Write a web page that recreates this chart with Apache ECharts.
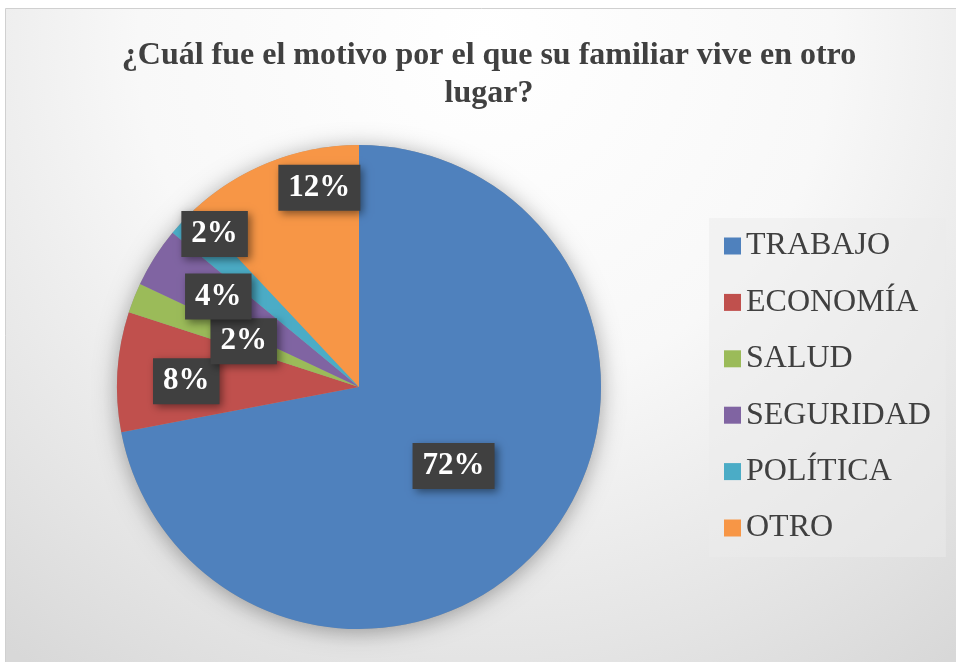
<!DOCTYPE html>
<html>
<head>
<meta charset="utf-8">
<script src="https://cdn.jsdelivr.net/npm/echarts@6/dist/echarts.min.js"></script>
<style>
html, body { margin: 0; padding: 0; background: #fff; }
#main { width: 956px; height: 662px; }
</style>
</head>
<body>
<div id="main"></div>
<script>
// datos de la encuesta (n = 50)
var categorias = ['TRABAJO', 'ECONOMÍA', 'SALUD', 'SEGURIDAD', 'POLÍTICA', 'OTRO'];
var respuestas = [36, 4, 1, 2, 1, 6];
var colores = ['#4f81bd', '#c0504d', '#9bbb59', '#8064a2', '#4bacc6', '#f79646'];

var titulo = '¿Cuál fue el motivo por el que su familiar vive en otro\nlugar?';

// desplazamiento de las etiquetas respecto a la posición interior (estilo Excel "mejor ajuste")
var ajusteEtiqueta = [[-1, 0], [-49, 2], [0, 0], [-36, -24], [-54, -68], [6, -84]];

var centro = [359, 387];
var radio = 242;

var dom = document.getElementById('main');
var myChart = echarts.init(dom, null, { renderer: 'canvas' });

var datos = [];
for (var i = 0; i < categorias.length; i++) {
    datos.push({ name: categorias[i], value: respuestas[i], itemStyle: { color: colores[i] } });
}

var option = {
    animation: false,
    graphic: [{
        type: 'rect',
        silent: true,
        z: -10,
        shape: { x: 5.5, y: 8.5, width: 960, height: 670 },
        style: {
            fill: new echarts.graphic.RadialGradient(0.5, 0.05, 1.15, [
                { offset: 0, color: '#ffffff' },
                { offset: 0.45, color: '#f8f8f8' },
                { offset: 0.8, color: '#e4e4e4' },
                { offset: 1, color: '#d8d8d8' }
            ]),
            stroke: '#d0d0d0',
            lineWidth: 1
        }
    }],
    title: {
        text: titulo,
        left: 484,
        top: 32,
        textAlign: 'center',
        textStyle: {
            fontFamily: 'Liberation Serif',
            fontWeight: 'bold',
            fontSize: 32,
            lineHeight: 38,
            color: '#404040'
        }
    },
    legend: {
        orient: 'vertical',
        left: 709,
        top: 218,
        padding: [12, 15, 13, 15],
        backgroundColor: 'rgba(235,235,235,0.5)',
        data: categorias,
        icon: 'rect',
        itemWidth: 17,
        itemHeight: 17,
        itemGap: 24.4,
        selectedMode: false,
        textStyle: {
            fontFamily: 'Liberation Serif',
            fontSize: 32,
            lineHeight: 32,
            color: '#404040'
        }
    },
    series: [
        {
            // sombra bajo el círculo
            type: 'pie',
            silent: true,
            z: 1,
            center: centro,
            radius: radio,
            data: [{ value: 1, name: 'sombra' }],
            label: { show: false },
            labelLine: { show: false },
            itemStyle: {
                color: '#9a9a9a',
                shadowBlur: 22,
                shadowColor: 'rgba(0,0,0,0.35)',
                shadowOffsetY: 3
            }
        },
        {
            name: 'Motivo',
            type: 'pie',
            z: 2,
            center: centro,
            radius: radio,
            startAngle: 90,
            clockwise: true,
            data: datos,
            label: {
                show: true,
                position: 'inside',
                formatter: function (p) { return Math.round(p.percent) + '%'; },
                fontFamily: 'Liberation Serif',
                fontWeight: 'bold',
                fontSize: 31,
                lineHeight: 34,
                color: '#ffffff',
                backgroundColor: '#404040',
                padding: [6, 10, 6, 10],
                shadowColor: 'rgba(0,0,0,0.45)',
                shadowBlur: 8,
                shadowOffsetX: 3,
                shadowOffsetY: 3
            },
            labelLine: { show: false },
            labelLayout: function (params) {
                var d = ajusteEtiqueta[params.dataIndex] || [0, 0];
                return { dx: d[0], dy: d[1] };
            },
            emphasis: { disabled: true }
        }
    ]
};

if (option && typeof option === 'object') {
    myChart.setOption(option);
}
window.onresize = function () {
    myChart.resize();
};
</script>
</body>
</html>
